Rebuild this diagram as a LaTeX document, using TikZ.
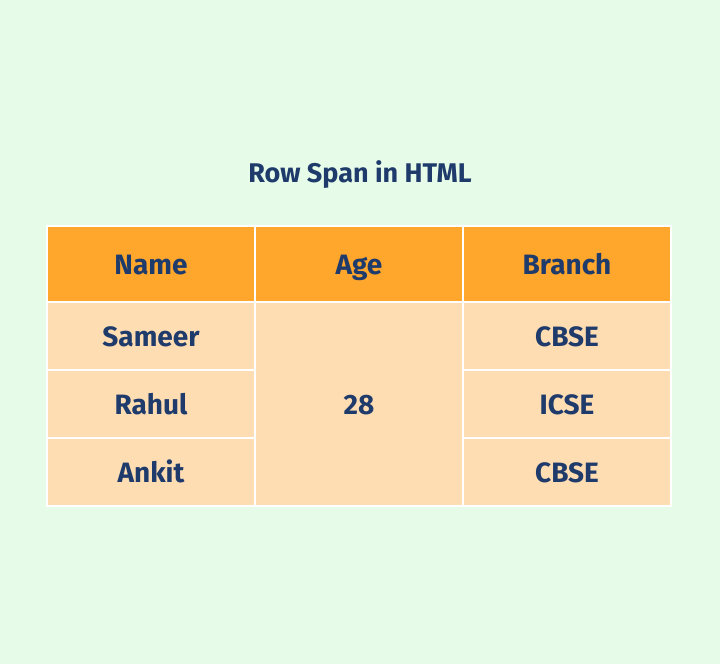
\documentclass[tikz,border=0pt]{standalone}
\usepackage{fontspec}
\setmainfont{Fira Sans}
\usetikzlibrary{positioning}
\definecolor{bggreen}{HTML}{E6FCE8}
\definecolor{headorange}{HTML}{FFA62C}
\definecolor{cellpeach}{HTML}{FFDDB2}
\definecolor{textblue}{HTML}{1F3B6B}
\begin{document}
\begin{tikzpicture}[x=1pt,y=-1pt,
    cell/.style={draw=white, line width=2pt, outer sep=0pt, inner sep=0pt, minimum width=208pt, text height=20pt, text depth=0pt, text=textblue, font=\fontsize{28}{32}\selectfont\bfseries},
    headcell/.style={cell, fill=headorange, minimum height=76pt},
    bodycell/.style={cell, fill=cellpeach, minimum height=68pt},
    title/.style={text=textblue, font=\fontsize{27}{32}\selectfont\bfseries}
  ]
  \fill[bggreen] (0,0) rectangle (720,664);
  \useasboundingbox (0,0) rectangle (720,664);

  % title
  \node (title) [title] at (360,175) {Row Span in HTML};

  % header row
  \node (hname) [headcell] at (151,264) {Name};
  \node (hage) [headcell] at (359,264) {Age};
  \node (hbranch) [headcell] at (567,264) {Branch};

  % body rows
  \node (sameer) [bodycell] at (151,336) {Sameer};
  \node (rahul) [bodycell] at (151,404) {Rahul};
  \node (ankit) [bodycell] at (151,472) {Ankit};
  \node (age) [bodycell, minimum height=204pt] at (359,404) {28};
  \node (cbse1) [bodycell] at (567,336) {CBSE};
  \node (icse) [bodycell] at (567,404) {ICSE};
  \node (cbse2) [bodycell] at (567,472) {CBSE};
\end{tikzpicture}
\end{document}
